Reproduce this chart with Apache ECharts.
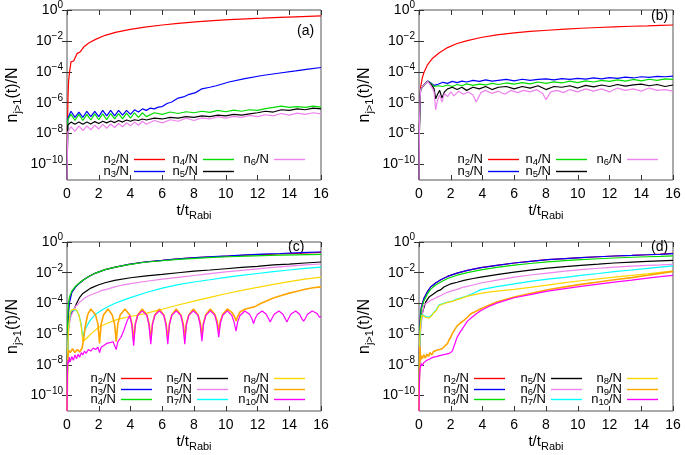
<!DOCTYPE html>
<html><head><meta charset="utf-8">
<script src="https://cdn.jsdelivr.net/npm/echarts@6/dist/echarts.min.js"></script>
<style>html,body{margin:0;padding:0;background:#fff}#c{width:685px;height:455px}</style>
</head><body><div id="c"></div>
<script>
// ---------- tick labels ----------
const xTickValues = [0, 2, 4, 6, 8, 10, 12, 14, 16];
const yTickValues = [1e-10, 1e-8, 1e-6, 1e-4, 1e-2, 1];
const panelLabels = ['(a)', '(b)', '(c)', '(d)'];

// ---------- panel (a) ----------
const aT2 = [0, 0.03, 0.06, 0.1, 0.15, 0.25, 0.42, 0.63, 0.84, 1.05, 1.37, 1.8, 2.4, 3.05, 3.9, 4.9, 6, 7, 8.1, 9.2, 10.2, 11.3, 12.3, 13.4, 14.4, 15.2, 16];
const aN2 = [1e-11, 3.2e-8, 1.6e-6, 2.5e-5, 7.9e-5, 4.4e-4, 5.0e-4, 1.5e-3, 2.0e-3, 4.0e-3, 7.4e-3, 1.26e-2, 2.3e-2, 3.6e-2, 5.4e-2, 7.9e-2, 0.107, 0.135, 0.17, 0.204, 0.24, 0.27, 0.295, 0.33, 0.363, 0.39, 0.417];
const aT3 = [0, 0.05, 0.25, 0.5, 0.75, 1, 1.25, 1.5, 1.75, 2, 2.25, 2.5, 2.75, 3, 3.25, 3.5, 3.75, 4, 4.25, 4.5, 4.75, 5, 5.25, 5.5, 5.75, 6, 6.3, 6.6, 7, 7.4, 7.7, 8.1, 8.5, 9, 9.4, 10.2, 11.2, 12.3, 13.3, 14.4, 15.2, 16];
const aN3 = [1e-11, 1e-7, 2.8e-7, 1.12e-7, 2.5e-7, 1.12e-7, 2.8e-7, 1.26e-7, 2.8e-7, 1.26e-7, 3.2e-7, 1.41e-7, 3.2e-7, 1.41e-7, 3.2e-7, 1.58e-7, 3.2e-7, 1.78e-7, 3.5e-7, 2.5e-7, 4.0e-7, 3.2e-7, 4.5e-7, 4.0e-7, 5.2e-7, 5.6e-7, 8.9e-7, 1.12e-6, 2.0e-6, 2.5e-6, 3.5e-6, 4.5e-6, 7.9e-6, 1.0e-5, 1.26e-5, 2.2e-5, 3.6e-5, 5.8e-5, 8.1e-5, 1.15e-4, 1.5e-4, 1.9e-4];
const aT456 = [0, 0.05, 0.25, 0.5, 0.75, 1, 1.25, 1.5, 1.75, 2, 2.25, 2.5, 2.75, 3, 3.25, 3.5, 3.75, 4, 4.25, 4.5, 4.75, 5, 5.5, 6, 6.5, 7, 7.5, 8, 8.5, 9, 9.5, 10, 10.5, 11, 11.5, 12, 12.5, 13, 13.5, 14, 14.5, 15, 15.5, 16];
const aN4 = [1e-11, 7.9e-8, 1.78e-7, 7.1e-8, 1.78e-7, 7.1e-8, 1.78e-7, 7.6e-8, 1.9e-7, 7.9e-8, 1.9e-7, 7.9e-8, 2.0e-7, 8.9e-8, 2.0e-7, 8.9e-8, 2.1e-7, 1.0e-7, 2.24e-7, 1.12e-7, 2.24e-7, 1.26e-7, 2.24e-7, 1.78e-7, 2.5e-7, 2.0e-7, 2.6e-7, 2.24e-7, 2.8e-7, 2.4e-7, 3.2e-7, 2.6e-7, 3.3e-7, 2.8e-7, 3.5e-7, 3.2e-7, 4.2e-7, 5.0e-7, 6.0e-7, 5.0e-7, 5.6e-7, 5.0e-7, 6.0e-7, 5.2e-7];
const aN5 = [1e-11, 3.5e-8, 5.6e-8, 4.0e-8, 5.6e-8, 4.0e-8, 5.6e-8, 4.2e-8, 6.0e-8, 4.5e-8, 6.3e-8, 5.0e-8, 6.6e-8, 5.2e-8, 7.1e-8, 5.6e-8, 7.6e-8, 6.3e-8, 7.9e-8, 7.1e-8, 8.9e-8, 7.6e-8, 1.0e-7, 8.9e-8, 1.12e-7, 1.0e-7, 1.26e-7, 1.12e-7, 1.41e-7, 1.26e-7, 1.58e-7, 1.41e-7, 1.78e-7, 1.58e-7, 1.9e-7, 2.24e-7, 2.8e-7, 2.5e-7, 3.5e-7, 3.2e-7, 4.0e-7, 3.5e-7, 4.5e-7, 4.0e-7];
const aN6 = [1e-11, 1.26e-8, 2.8e-8, 1.41e-8, 3.2e-8, 1.58e-8, 3.2e-8, 1.78e-8, 3.5e-8, 2.0e-8, 4.0e-8, 2.24e-8, 4.2e-8, 2.5e-8, 4.5e-8, 2.8e-8, 5.0e-8, 3.2e-8, 5.6e-8, 3.5e-8, 6.3e-8, 4.0e-8, 7.1e-8, 5.0e-8, 7.9e-8, 6.3e-8, 1.0e-7, 7.1e-8, 1.05e-7, 8.9e-8, 1.26e-7, 1.0e-7, 1.32e-7, 1.12e-7, 1.51e-7, 1.26e-7, 1.66e-7, 1.41e-7, 2.0e-7, 1.58e-7, 2.1e-7, 1.78e-7, 2.24e-7, 1.9e-7];

// ---------- panel (b) ----------
const bT2 = [0, 0.03, 0.06, 0.1, 0.2, 0.3, 0.52, 0.84, 1.26, 1.8, 2.4, 3.05, 3.9, 4.9, 6, 7, 8.1, 9.2, 10.2, 11.3, 12.3, 13.4, 14.4, 15.2, 16];
const bN2 = [1e-11, 3.2e-8, 1e-6, 1e-5, 3.7e-5, 8.5e-5, 2.7e-4, 7.2e-4, 1.66e-3, 3.7e-3, 6.8e-3, 1.05e-2, 1.66e-2, 2.45e-2, 3.3e-2, 4.1e-2, 4.9e-2, 5.75e-2, 6.6e-2, 7.4e-2, 8.1e-2, 8.9e-2, 9.3e-2, 0.1, 0.107];
const bT34 = [0, 0.03, 0.06, 0.1, 0.2, 0.35, 0.55, 0.75, 0.95, 1.2, 1.5, 1.8, 2.1, 2.4, 2.7, 3.0, 3.4, 3.8, 4.2, 4.6, 5.0, 5.5, 6, 6.5, 7, 7.5, 8, 8.5, 9, 9.5, 10, 10.5, 11, 11.5, 12, 12.5, 13, 13.5, 14, 14.5, 15, 15.5, 16];
const bN3 = [1e-11, 3.2e-8, 1e-6, 7.1e-6, 1e-5, 1.58e-5, 2.5e-5, 1.9e-5, 1.32e-5, 1.58e-5, 2.1e-5, 1.78e-5, 2.4e-5, 2.0e-5, 2.5e-5, 2.2e-5, 2.8e-5, 2.4e-5, 3.0e-5, 2.5e-5, 2.8e-5, 3.2e-5, 2.6e-5, 3.3e-5, 2.8e-5, 3.2e-5, 3.5e-5, 3.0e-5, 3.6e-5, 3.2e-5, 3.8e-5, 3.4e-5, 4.0e-5, 3.5e-5, 4.2e-5, 3.8e-5, 4.5e-5, 4.0e-5, 4.8e-5, 4.4e-5, 5.0e-5, 4.8e-5, 5.2e-5];
const bN4 = [1e-11, 3.2e-8, 1e-6, 7.1e-6, 1e-5, 1.58e-5, 2.5e-5, 1.78e-5, 1.12e-5, 1.26e-5, 1.12e-5, 1.41e-5, 1.12e-5, 1.51e-5, 1.26e-5, 1.66e-5, 1.32e-5, 1.58e-5, 1.41e-5, 1.78e-5, 1.51e-5, 1.9e-5, 1.58e-5, 2.0e-5, 1.66e-5, 2.2e-5, 1.78e-5, 2.24e-5, 1.9e-5, 2.5e-5, 2.0e-5, 2.6e-5, 2.2e-5, 2.8e-5, 2.4e-5, 3.0e-5, 2.5e-5, 3.2e-5, 2.6e-5, 3.3e-5, 2.8e-5, 3.5e-5, 3.2e-5];
const bT5 = [0, 0.03, 0.06, 0.1, 0.2, 0.35, 0.55, 0.75, 0.95, 1.05, 1.15, 1.3, 1.45, 1.6, 1.8, 2.1, 2.4, 2.7, 3.0, 3.4, 3.8, 4.2, 4.6, 5.0, 5.5, 6, 6.5, 7, 7.5, 8, 8.5, 9, 9.5, 10, 10.5, 11, 11.5, 12, 12.5, 13, 13.5, 14, 14.5, 15, 15.5, 16];
const bN5 = [1e-11, 3.2e-8, 1e-6, 7.1e-6, 1e-5, 1.58e-5, 2.5e-5, 1.58e-5, 7.9e-6, 1.78e-6, 3.2e-6, 6.3e-6, 2.0e-6, 5.0e-6, 7.9e-6, 1e-5, 7.1e-6, 1e-5, 6.3e-6, 1e-5, 7.9e-6, 1.12e-5, 7.1e-6, 1e-5, 1.12e-5, 7.9e-6, 1.12e-5, 8.9e-6, 1.26e-5, 7.1e-6, 1.12e-5, 1e-5, 1.26e-5, 8.9e-6, 1.32e-5, 1.05e-5, 1.41e-5, 1.12e-5, 1.51e-5, 1.2e-5, 1.41e-5, 1.58e-5, 1.26e-5, 1.51e-5, 1.12e-5, 1.41e-5];
const bT6 = [0, 0.03, 0.06, 0.1, 0.2, 0.35, 0.55, 0.75, 0.95, 1.05, 1.15, 1.3, 1.45, 1.6, 1.8, 2.0, 2.2, 2.5, 2.8, 3.1, 3.4, 3.6, 3.9, 4.2, 4.6, 5.0, 5.4, 5.8, 6.2, 6.6, 7.0, 7.4, 7.8, 8.0, 8.3, 8.7, 9.1, 9.5, 10, 10.5, 11, 11.5, 12, 12.5, 13, 13.5, 14, 14.5, 15, 15.5, 16];
const bN6 = [1e-11, 3.2e-8, 1e-6, 7.1e-6, 1e-5, 1.58e-5, 2.4e-5, 1.26e-5, 5.0e-6, 3.5e-7, 1.26e-6, 3.2e-6, 1.12e-6, 4.0e-6, 2.5e-6, 5.0e-6, 2.8e-6, 5.6e-6, 3.5e-6, 5.0e-6, 3.2e-6, 1.12e-6, 4.5e-6, 6.3e-6, 4.0e-6, 5.6e-6, 3.5e-6, 6.3e-6, 4.5e-6, 6.3e-6, 5.0e-6, 7.1e-6, 4.0e-6, 1.58e-6, 5.0e-6, 6.3e-6, 4.5e-6, 7.1e-6, 5.0e-6, 7.9e-6, 5.6e-6, 7.9e-6, 5.0e-6, 8.9e-6, 6.3e-6, 7.9e-6, 5.6e-6, 8.9e-6, 6.3e-6, 7.1e-6, 5.6e-6];

// ---------- panel (c) ----------
const cT234 = [0, 0.03, 0.06, 0.1, 0.15, 0.3, 0.52, 0.73, 1.05, 1.37, 1.8, 2.4, 3.05, 3.9, 4.9, 6, 7, 8.1, 9.2, 10.2, 11.3, 12.3, 13.4, 14.4, 15.2, 16];
const cN2 = [1e-11, 1e-7, 7.9e-6, 5.0e-5, 1.58e-4, 5.5e-4, 1.17e-3, 1.9e-3, 3.5e-3, 5.75e-3, 9.5e-3, 1.58e-2, 2.34e-2, 3.5e-2, 5.0e-2, 6.3e-2, 7.9e-2, 9.5e-2, 0.11, 0.123, 0.138, 0.151, 0.166, 0.182, 0.195, 0.209];
const cN3 = [1e-11, 5e-8, 3.2e-6, 2.5e-5, 1.0e-4, 5.0e-4, 1.12e-3, 1.86e-3, 3.5e-3, 5.75e-3, 9.5e-3, 1.58e-2, 2.34e-2, 3.5e-2, 5.0e-2, 6.3e-2, 7.9e-2, 9.5e-2, 0.112, 0.126, 0.145, 0.162, 0.178, 0.195, 0.209, 0.224];
const cN4 = [1e-11, 1e-6, 2.5e-5, 1.0e-4, 2.5e-4, 6.3e-4, 1.26e-3, 2.0e-3, 3.5e-3, 5.75e-3, 9.5e-3, 1.58e-2, 2.34e-2, 3.4e-2, 4.8e-2, 6.0e-2, 7.4e-2, 8.7e-2, 0.1, 0.11, 0.12, 0.129, 0.138, 0.145, 0.151, 0.158];
const cT5 = [0, 0.05, 0.1, 0.2, 0.3, 0.42, 0.6, 0.8, 1.0, 1.5, 2.0, 2.4, 3, 4, 5, 6, 7, 8, 9, 10, 11, 12, 13, 14, 15, 16];
const cN5 = [1e-11, 3.2e-7, 3.2e-6, 1.26e-5, 2.5e-5, 3.5e-5, 1e-4, 2.5e-4, 4.5e-4, 1e-3, 1.66e-3, 2.24e-3, 3.2e-3, 4.7e-3, 6.3e-3, 7.9e-3, 1e-2, 1.26e-2, 1.51e-2, 1.82e-2, 2.2e-2, 2.6e-2, 3.2e-2, 3.6e-2, 4.3e-2, 5.0e-2];
const cT6 = [0, 0.05, 0.1, 0.2, 0.3, 0.42, 0.52, 0.65, 0.8, 0.94, 1.1, 1.37, 1.6, 1.9, 2.2, 2.6, 3.0, 3.5, 3.9, 5, 6, 7, 8, 9, 10, 11, 12, 13, 14, 15, 16];
const cN6 = [1e-11, 1.58e-7, 1.58e-6, 1e-5, 2e-5, 3.5e-5, 6.3e-5, 7.9e-5, 1.26e-4, 1.58e-4, 2.24e-4, 3.2e-4, 4.0e-4, 5.2e-4, 7.1e-4, 8.9e-4, 1.2e-3, 1.58e-3, 1.9e-3, 2.8e-3, 3.8e-3, 5.0e-3, 6.6e-3, 8.7e-3, 1.12e-2, 1.41e-2, 1.78e-2, 2.24e-2, 2.7e-2, 3.2e-2, 3.7e-2];
const cT7 = [0, 0.05, 0.1, 0.2, 0.3, 0.45, 0.6, 0.75, 0.88, 0.95, 1.0, 1.05, 1.15, 1.26, 1.4, 1.57, 1.8, 2.2, 2.6, 3.0, 3.5, 4.0, 5.0, 6.0, 7.0, 8.0, 9.0, 10, 11, 12, 13, 14, 15, 16];
const cN7 = [1e-11, 1e-7, 2.5e-6, 2.0e-5, 3.5e-5, 4.0e-5, 3.5e-5, 1.78e-5, 5.0e-6, 1.58e-6, 5.0e-7, 1.12e-6, 2.0e-6, 3.5e-6, 6.3e-6, 1.1e-5, 2.0e-5, 3.8e-5, 6.3e-5, 1e-4, 1.58e-4, 2.4e-4, 5.2e-4, 1e-3, 1.66e-3, 2.5e-3, 3.5e-3, 5.0e-3, 6.8e-3, 8.9e-3, 1.17e-2, 1.51e-2, 1.9e-2, 2.34e-2];
const cT8 = [0, 0.05, 0.1, 0.2, 0.3, 0.45, 0.6, 0.75, 0.88, 0.95, 1.0, 1.1, 1.3, 1.6, 2.0, 2.5, 3.0, 3.5, 4.0, 4.5, 5.0, 5.5, 6.0, 7.0, 8.0, 9.0, 10, 11, 12, 13, 14, 15, 16];
const cN8 = [1e-11, 1e-7, 2.5e-6, 2.8e-5, 3.8e-5, 4.2e-5, 3.8e-5, 1.78e-5, 4.0e-6, 1e-6, 3.2e-7, 4.0e-7, 6.3e-7, 1.26e-6, 2.8e-6, 5.0e-6, 7.9e-6, 1.12e-5, 1.41e-5, 1.78e-5, 2.24e-5, 3.2e-5, 4.2e-5, 7.9e-5, 1.41e-4, 2.5e-4, 4.3e-4, 7.1e-4, 1.12e-3, 1.74e-3, 2.6e-3, 3.8e-3, 5.2e-3];
const cT9 = [0, 0.05, 0.1, 0.2, 0.35, 0.5, 0.65, 0.8, 0.95, 1.05, 1.15, 1.3, 1.5, 1.8, 1.95, 2.05, 2.15, 2.3, 2.58, 2.85, 3.0, 3.1, 3.2, 3.35, 3.65, 3.95, 4.1, 4.2, 4.3, 4.45, 4.74, 5.03, 5.18, 5.28, 5.38, 5.53, 5.82, 6.1, 6.25, 6.35, 6.45, 6.6, 6.88, 7.17, 7.32, 7.42, 7.52, 7.67, 7.96, 8.25, 8.4, 8.5, 8.6, 8.75, 9.03, 9.31, 9.46, 9.56, 9.66, 9.81, 10.1, 10.4, 10.55, 10.65, 10.75, 10.9, 11.2, 11.5, 11.8, 12.2, 12.6, 13, 13.5, 14, 14.5, 15, 15.5, 16];
const cN9 = [1e-11, 3.2e-8, 8.9e-8, 6.3e-8, 1.12e-7, 6.3e-8, 1e-7, 7.1e-8, 1.26e-7, 5e-7, 3.2e-6, 1.78e-5, 4.4e-5,
  1.78e-5, 4.5e-6, 2.5e-7, 4.5e-6, 1.78e-5, 4.4e-5,
  1.78e-5, 4.5e-6, 3.2e-7, 4.5e-6, 1.78e-5, 4.4e-5,
  1.78e-5, 4.5e-6, 4.0e-7, 4.5e-6, 1.78e-5, 4.4e-5,
  1.78e-5, 4.5e-6, 4.5e-7, 4.5e-6, 1.78e-5, 4.4e-5,
  1.78e-5, 4.5e-6, 5.0e-7, 4.5e-6, 1.78e-5, 4.4e-5,
  1.78e-5, 5.0e-6, 6.3e-7, 5.0e-6, 1.78e-5, 4.4e-5,
  1.9e-5, 5.6e-6, 7.9e-7, 5.6e-6, 1.9e-5, 4.4e-5,
  2.0e-5, 7.1e-6, 1.58e-6, 7.1e-6, 2.0e-5, 4.4e-5,
  2.5e-5, 1.41e-5, 7.1e-6, 1.41e-5, 2.8e-5,
  4.2e-5, 5.0e-5, 6.0e-5, 1e-4, 1.51e-4, 2.24e-4, 3.3e-4, 4.7e-4, 6.3e-4, 8.3e-4, 1.05e-3, 1.2e-3];
const cT10 = [0, 0.03, 0.06, 0.1, 0.15, 0.2, 0.3, 0.4, 0.5, 0.6, 0.7, 0.8, 0.9, 1.0, 1.1, 1.2, 1.35, 1.5, 1.65, 1.8, 1.95, 2.05, 2.15, 2.3, 2.5, 2.7, 2.9, 3.0, 3.1, 3.2, 3.4, 3.6, 3.8, 3.95,
  4.08, 4.2, 4.3, 4.45, 4.74, 5.03, 5.16, 5.28, 5.38, 5.53, 5.82, 6.1, 6.23, 6.35, 6.45, 6.6, 6.88, 7.17, 7.3, 7.42, 7.52, 7.67, 7.96,
  8.25, 8.38, 8.5, 8.6, 8.75, 9.03, 9.31, 9.44, 9.56, 9.66, 9.81, 10.1, 10.38, 10.52, 10.65, 10.75, 10.9, 11.2,
  11.5, 11.65, 11.75, 11.85, 12.0, 12.3, 12.55, 12.7, 12.8, 12.9, 13.05, 13.35, 13.6, 13.75, 13.85, 13.95, 14.1, 14.4,
  14.65, 14.8, 14.9, 15.0, 15.15, 15.45, 15.75, 15.9, 16];
const cN10 = [1e-11, 5e-9, 2e-8, 1.26e-8, 3.2e-8, 1.58e-8, 3.5e-8, 2e-8, 4.5e-8, 2.5e-8, 5e-8, 3.2e-8, 6.3e-8, 4.5e-8, 7.9e-8, 5.6e-8, 1e-7, 7.9e-8, 1.26e-7, 1e-7, 1.41e-7, 6.3e-8, 1.41e-7, 1.78e-7, 2.5e-7, 2.8e-7, 3.2e-7, 2.8e-7, 1e-7, 3.2e-7, 6.3e-7, 2e-6, 7.9e-6, 1.66e-5,
  4e-6, 1.78e-7, 4e-6, 1.66e-5, 3.3e-5, 1.66e-5, 4e-6, 2.24e-7, 4e-6, 1.66e-5, 3.3e-5, 1.66e-5, 4e-6, 2.24e-7, 4e-6, 1.66e-5, 3.3e-5, 1.66e-5, 4e-6, 2.24e-7, 4e-6, 1.66e-5, 3.3e-5,
  1.66e-5, 4.5e-6, 3.5e-7, 4.5e-6, 1.66e-5, 3.3e-5, 1.66e-5, 5e-6, 6.3e-7, 5e-6, 1.66e-5, 3.3e-5, 1.66e-5, 6.3e-6, 1.58e-6, 6.3e-6, 1.66e-5, 3.2e-5,
  2e-5, 1e-5, 5e-6, 1e-5, 2e-5, 3.2e-5, 2e-5, 1e-5, 6.3e-6, 1e-5, 2e-5, 3.2e-5, 2e-5, 1e-5, 6.3e-6, 1e-5, 2e-5, 3.2e-5,
  2e-5, 1e-5, 7.1e-6, 1e-5, 2e-5, 3.2e-5, 2.24e-5, 1.26e-5, 1.41e-5];

// ---------- panel (d) ----------
const dT234 = [0, 0.03, 0.06, 0.1, 0.15, 0.3, 0.52, 0.73, 1.05, 1.37, 1.8, 2.4, 3.05, 3.9, 4.9, 6, 7, 8.1, 9.2, 10.2, 11.3, 12.3, 13.4, 14.4, 15.2, 16];
const dN2 = [1e-11, 1e-7, 3.2e-6, 2e-5, 5.75e-5, 2e-4, 5.5e-4, 1.17e-3, 2.14e-3, 3.5e-3, 5.75e-3, 9.5e-3, 1.41e-2, 2.14e-2, 3.0e-2, 4.3e-2, 5.5e-2, 7.1e-2, 8.3e-2, 9.5e-2, 0.11, 0.123, 0.135, 0.148, 0.162, 0.182];
const dN3 = [1e-11, 1e-7, 5e-6, 2.5e-5, 5.75e-5, 2e-4, 5.5e-4, 1.17e-3, 2.14e-3, 3.5e-3, 5.75e-3, 9.5e-3, 1.41e-2, 2.14e-2, 3.0e-2, 4.3e-2, 5.5e-2, 7.1e-2, 8.3e-2, 9.5e-2, 0.11, 0.123, 0.135, 0.148, 0.158, 0.174];
const dN4 = [1e-11, 5e-8, 2e-6, 1.26e-5, 4e-5, 1.41e-4, 4e-4, 8.3e-4, 1.58e-3, 2.5e-3, 4.2e-3, 6.9e-3, 1.02e-2, 1.55e-2, 2.2e-2, 3.1e-2, 4e-2, 5.1e-2, 6.2e-2, 7.1e-2, 8.1e-2, 9.1e-2, 0.102, 0.11, 0.117, 0.126];
const dT5 = [0, 0.05, 0.1, 0.2, 0.3, 0.42, 0.52, 0.63, 0.75, 0.84, 0.95, 1.15, 1.35, 1.57, 2.0, 2.4, 2.83, 3.4, 3.9, 5, 6, 7, 8.1, 9.2, 10.2, 11.3, 12.3, 13.4, 14.4, 15.2, 16];
const dN5 = [1e-11, 1e-7, 3.2e-6, 2.1e-5, 5e-5, 1.23e-4, 1.78e-4, 2.6e-4, 3.2e-4, 3.7e-4, 3.5e-4, 6.3e-4, 7.6e-4, 1.17e-3, 1.9e-3, 2.4e-3, 3.2e-3, 4.2e-3, 5.2e-3, 7.9e-3, 1.1e-2, 1.48e-2, 2e-2, 2.5e-2, 3.0e-2, 3.6e-2, 4.3e-2, 4.9e-2, 5.5e-2, 5.9e-2, 6.3e-2];
const dT6 = [0, 0.05, 0.1, 0.2, 0.3, 0.5, 0.73, 0.95, 1.15, 1.35, 1.57, 2.0, 2.4, 2.83, 3.4, 3.9, 5, 6, 7, 8.1, 9.2, 10.2, 11.3, 12.3, 13.4, 14.4, 15.2, 16];
const dN6 = [1e-11, 1e-7, 1.58e-6, 1.58e-5, 7.4e-5, 1.12e-4, 1.58e-4, 2e-4, 2.6e-4, 3.2e-4, 4.3e-4, 6.3e-4, 8.3e-4, 1.17e-3, 1.58e-3, 2.14e-3, 3.4e-3, 5.2e-3, 7.1e-3, 9.5e-3, 1.26e-2, 1.58e-2, 1.95e-2, 2.34e-2, 2.7e-2, 3.0e-2, 3.2e-2, 3.5e-2];
const dT78 = [0, 0.03, 0.06, 0.1, 0.15, 0.2, 0.3, 0.4, 0.52, 0.65, 0.8, 0.94, 1.1, 1.25, 1.37, 1.6, 1.8, 2.1, 2.4, 2.7, 3.05, 3.5, 3.9, 4.4, 4.9, 6, 7, 8.1, 9.2, 10.2, 11.3, 12.3, 13.4, 14.4, 15.2, 16];
const dN7 = [1e-11, 1e-8, 3.2e-7, 3.2e-6, 1e-5, 2e-5, 1.78e-5, 1.41e-5, 1.12e-5, 1.26e-5, 1.78e-5, 2.7e-5, 4e-5, 7.9e-5, 9.5e-5, 1.05e-4, 1.23e-4, 1.41e-4, 1.9e-4, 2.4e-4, 3.2e-4, 5e-4, 7.9e-4, 1e-3, 1.26e-3, 1.9e-3, 2.75e-3, 3.8e-3, 5e-3, 6.8e-3, 8.9e-3, 1.17e-2, 1.51e-2, 1.9e-2, 2.3e-2, 2.8e-2];
const dN8 = [1e-11, 3.2e-8, 1e-6, 5e-6, 1.12e-5, 1.78e-5, 1.58e-5, 1.26e-5, 1e-5, 1.12e-5, 1.58e-5, 2.5e-5, 3.5e-5, 7.1e-5, 8.9e-5, 1e-4, 1.17e-4, 1.35e-4, 1.78e-4, 2.24e-4, 3e-4, 3.8e-4, 4.5e-4, 5.4e-4, 6.3e-4, 8.3e-4, 1.12e-3, 1.58e-3, 2.24e-3, 3e-3, 4e-3, 5.2e-3, 6.8e-3, 8.5e-3, 1.05e-2, 1.26e-2];
const dT9 = [0, 0.03, 0.06, 0.1, 0.15, 0.2, 0.3, 0.4, 0.5, 0.6, 0.7, 0.8, 0.9, 1.0, 1.1, 1.2, 1.3, 1.45, 1.6, 1.7, 1.8, 1.9, 2.0, 2.1, 2.25, 2.4, 2.6, 2.83, 3.05, 3.26, 3.5, 3.9, 4.4, 4.9, 6, 7, 8.1, 9.2, 10.2, 11.3, 12.3, 13.4, 14.4, 15.2, 16];
const dN9 = [1e-11, 3.2e-9, 1.58e-7, 2e-8, 4e-8, 2.5e-8, 4.5e-8, 2.8e-8, 5e-8, 3.5e-8, 6.3e-8, 4.5e-8, 7.1e-8, 5.6e-8, 8.9e-8, 7.1e-8, 1e-7, 1.12e-7, 1.58e-7, 1.78e-7, 2.5e-7, 4.5e-7, 6.3e-7, 1.12e-6, 2e-6, 3.5e-6, 5.2e-6, 7.9e-6, 1.26e-5, 2.14e-5, 2.8e-5, 4.5e-5, 7.6e-5, 1.23e-4, 2.6e-4, 4.5e-4, 7.8e-4, 1.2e-3, 1.74e-3, 2.5e-3, 3.5e-3, 4.8e-3, 6.8e-3, 9.1e-3, 1.23e-2];
const dT10 = [0, 0.03, 0.06, 0.1, 0.15, 0.2, 0.3, 0.4, 0.5, 0.6, 0.7, 0.8, 0.9, 1.0, 1.1, 1.2, 1.3, 1.4, 1.5, 1.6, 1.7, 1.8, 1.9, 2.0, 2.1, 2.2, 2.4, 2.57, 2.73, 3.05, 3.47, 3.9, 4.4, 4.9, 6, 7, 8.1, 9.2, 10.2, 11.3, 12.3, 13.4, 14.4, 15.2, 16];
const dN10 = [1e-11, 1e-9, 5e-9, 7.9e-9, 1.26e-8, 8.9e-9, 1.41e-8, 1.12e-8, 2e-8, 1.58e-8, 2.5e-8, 2e-8, 3.2e-8, 2.5e-8, 3.5e-8, 2.8e-8, 4e-8, 3.5e-8, 4.5e-8, 4e-8, 5e-8, 4.5e-8, 5.6e-8, 6.3e-8, 7.9e-8, 1.58e-7, 6.3e-7, 1.26e-6, 2.24e-6, 7.1e-6, 1.66e-5, 3.5e-5, 6.3e-5, 1.05e-4, 2.34e-4, 3.8e-4, 6.3e-4, 9.3e-4, 1.29e-3, 1.82e-3, 2.45e-3, 3.3e-3, 4.5e-3, 5.5e-3, 6.8e-3];

// ---------- series definitions per panel ----------
const seriesColors = {
  'n2/N': '#ff0000', 'n3/N': '#0000ff', 'n4/N': '#00dd00', 'n5/N': '#000000', 'n6/N': '#ee82ee',
  'n7/N': '#00ffff', 'n8/N': '#ffd700', 'n9/N': '#ffa500', 'n10/N': '#ff00ff'
};
const panelSeries = [
  [['n2/N', aT2, aN2], ['n3/N', aT3, aN3], ['n4/N', aT456, aN4], ['n5/N', aT456, aN5], ['n6/N', aT456, aN6]],
  [['n2/N', bT2, bN2], ['n3/N', bT34, bN3], ['n4/N', bT34, bN4], ['n5/N', bT5, bN5], ['n6/N', bT6, bN6]],
  [['n2/N', cT234, cN2], ['n3/N', cT234, cN3], ['n4/N', cT234, cN4], ['n5/N', cT5, cN5], ['n6/N', cT6, cN6],
   ['n7/N', cT7, cN7], ['n8/N', cT8, cN8], ['n9/N', cT9, cN9], ['n10/N', cT10, cN10]],
  [['n2/N', dT234, dN2], ['n3/N', dT234, dN3], ['n4/N', dT234, dN4], ['n5/N', dT5, dN5], ['n6/N', dT6, dN6],
   ['n7/N', dT78, dN7], ['n8/N', dT78, dN8], ['n9/N', dT9, dN9], ['n10/N', dT10, dN10]]
];

// ---------- layout (styles/positions) ----------
const FONT = 'Liberation Sans, Arial, Helvetica, sans-serif';
const grids = [
  {left: 67, top: 10, width: 254, height: 170},
  {left: 419, top: 10, width: 254, height: 170},
  {left: 67, top: 242, width: 254, height: 169},
  {left: 419, top: 242, width: 254, height: 169}
];
const legendLayout = [
  {cols: [165, 234, 305], rows: [158, 170], perCol: 2},
  {cols: [519, 587, 658], rows: [158, 170], perCol: 2},
  {cols: [152, 228, 305], rows: [377, 388, 398], perCol: 3},
  {cols: [505, 582, 658], rows: [377, 388, 398], perCol: 3}
];
const labelPos = [[297, 24], [651, 9], [288, 240], [651, 240]];

const chart = echarts.init(document.getElementById('c'), null, {renderer: 'canvas'});

const supRich = {
  b: {fontSize: 14, fontFamily: FONT, color: '#000'},
  p: {fontSize: 10, fontFamily: FONT, color: '#000', padding: [0, 0, 9, 0]}
};
const subName = (main, sub, tail) => '{a|' + main + '}{s|' + sub + '}' + (tail ? '{a|' + tail + '}' : '');
const xNameRich = {
  a: {fontSize: 15, fontFamily: FONT, color: '#000'},
  s: {fontSize: 11, fontFamily: FONT, color: '#000', padding: [9, 0, 0, 0]}
};
const yNameRich = {
  a: {fontSize: 16, fontFamily: FONT, color: '#000'},
  s: {fontSize: 11, fontFamily: FONT, color: '#000', padding: [9, 0, 0, 0]}
};
const legendRich = {
  a: {fontSize: 13, fontFamily: FONT, color: '#000'},
  s: {fontSize: 9.5, fontFamily: FONT, color: '#000', padding: [5, 0, 0, 0]}
};

const xAxes = [], yAxes = [], series = [], legends = [], graphics = [];
grids.forEach((g, i) => {
  const tickStyle = {inside: true, length: 5, lineStyle: {color: '#333', width: 1}};
  xAxes.push({
    type: 'value', gridIndex: i, min: 0, max: 16, interval: 2,
    axisLine: {show: false}, axisTick: tickStyle, splitLine: {show: false},
    axisLabel: {fontSize: 14, fontFamily: FONT, color: '#000', margin: 7,
      customValues: xTickValues},
    name: subName('t/t', 'Rabi'), nameLocation: 'middle', nameGap: 21,
    nameTextStyle: {rich: xNameRich}
  });
  xAxes.push({
    type: 'value', gridIndex: i, position: 'top', min: 0, max: 16, interval: 2,
    axisLine: {show: false}, axisTick: tickStyle, axisLabel: {show: false}, splitLine: {show: false}
  });
  yAxes.push({
    type: 'log', logBase: 10, gridIndex: i, min: 1e-11, max: 1,
    axisLine: {show: false}, splitLine: {show: false},
    axisTick: Object.assign({customValues: yTickValues}, tickStyle),
    axisLabel: {
      customValues: yTickValues, margin: 4,
      formatter: v => {
        const e = Math.round(Math.log10(v));
        return '{b|10}{p|' + (e < 0 ? '\u2212' + (-e) : e) + '}';
      },
      rich: supRich
    },
    name: subName('n', 'j>1', '(t)/N'), nameLocation: 'middle', nameGap: 44, nameRotate: 90,
    nameTextStyle: {rich: yNameRich}
  });
  yAxes.push({
    type: 'log', logBase: 10, gridIndex: i, position: 'right', min: 1e-11, max: 1,
    axisLine: {show: false}, splitLine: {show: false},
    axisTick: Object.assign({customValues: yTickValues}, tickStyle),
    axisLabel: {show: false}
  });

  const lay = legendLayout[i];
  panelSeries[i].forEach((s, k) => {
    const [name, ts, vs] = s;
    const w = (name === 'n9/N') ? 1.6 : 1.2;
    series.push({
      type: 'line', name: name, xAxisIndex: 2 * i, yAxisIndex: 2 * i,
      data: ts.map((t, j) => [t, vs[j]]),
      showSymbol: false, symbol: 'none', silent: true, animation: false,
      lineStyle: {color: seriesColors[name], width: w},
      itemStyle: {color: seriesColors[name]}
    });
    const col = Math.floor(k / lay.perCol), row = k % lay.perCol;
    legends.push({
      data: [name], selectedMode: false, orient: 'horizontal', align: 'right',
      right: 685 - lay.cols[col], top: lay.rows[row] - 5, padding: 0,
      icon: 'rect', itemWidth: 31, itemHeight: 1.4, itemGap: 0, itemTextGap: 4,
      itemStyle: {color: seriesColors[name]},
      formatter: n => { const m = n.match(/^n(\d+)\/N$/); return '{a|n}{s|' + m[1] + '}{a|/N}'; },
      textStyle: {rich: legendRich}
    });
  });
  graphics.push({type: 'text', left: labelPos[i][0], top: labelPos[i][1],
    style: {text: panelLabels[i], font: '14px ' + FONT, fill: '#000'}});
});

chart.setOption({
  animation: false,
  backgroundColor: '#fff',
  grid: grids.map(g => Object.assign({show: true, borderColor: '#555', borderWidth: 1, backgroundColor: 'transparent', containLabel: false}, g)),
  xAxis: xAxes, yAxis: yAxes, series: series, legend: legends, graphic: graphics
});
</script></body></html>
